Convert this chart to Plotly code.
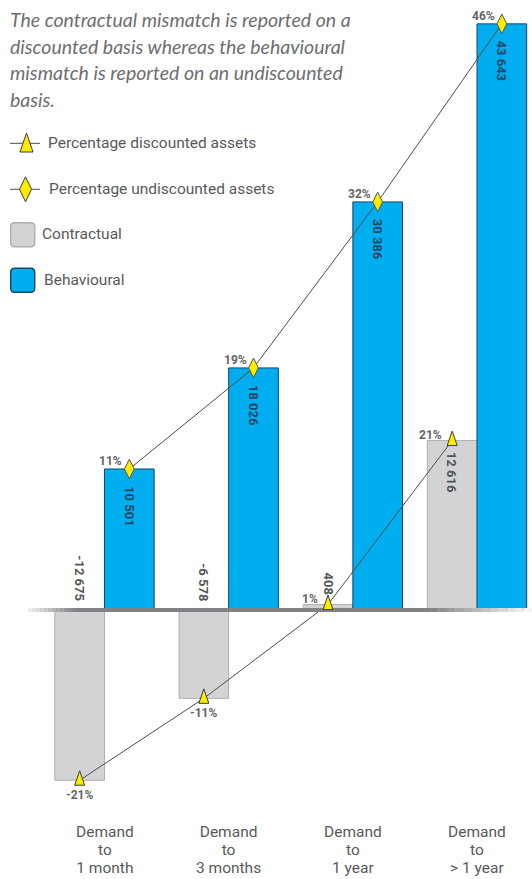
import plotly.graph_objects as go

# ---------------- data ----------------
cat_lines = [["Demand", "to", "1 month"],
             ["Demand", "to", "3 months"],
             ["Demand", "to", "1 year"],
             ["Demand", "to", "> 1 year"]]
contractual = [-12675, -6578, 408, 12616]
behavioural = [10501, 18026, 30386, 43643]
pct_discounted = [-21, -11, 1, 21]
pct_undiscounted = [11, 19, 32, 46]
title_lines = ["The contractual mismatch is reported on a",
               "discounted basis whereas the behavioural",
               "mismatch is reported on an undiscounted",
               "basis."]
legend_names = ["Percentage discounted assets", "Percentage undiscounted assets",
                "Contractual", "Behavioural"]

# ---------------- layout helpers ----------------
W, H = 532, 879
ZERO_PX = 610.0
K = 0.01343            # pixels per unit
FIRST_PX = 104.5
STEP_PX = 124.17

def px(x):
    return x / W

def py(y):
    return (H - y) / H

FONT = "Roboto"
GREY_TXT = "#58595b"
BLUE = "#00aeef"
BLUE_LINE = "#17476b"
GREY = "#d1d3d4"
GREY_LINE = "#aeb0b2"
YELLOW = "#ffeb00"
LINE_C = "#4d4d4f"

idx = list(range(len(cat_lines)))
xc = [i - 0.2 for i in idx]
xb = [i + 0.2 for i in idx]

def fmt(v):
    return f"{v:,}".replace(",", " ")

fig = go.Figure()
fig.add_trace(go.Bar(x=idx, y=contractual, name=legend_names[2],
                     marker=dict(color=GREY, line=dict(color=GREY_LINE, width=1))))
fig.add_trace(go.Bar(x=idx, y=behavioural, name=legend_names[3],
                     marker=dict(color=BLUE, line=dict(color=BLUE_LINE, width=1))))
fig.add_trace(go.Scatter(x=xc, y=contractual, mode="lines", name=legend_names[0],
                         line=dict(color=LINE_C, width=1)))
fig.add_trace(go.Scatter(x=xb, y=behavioural, mode="lines+markers", name=legend_names[1],
                         line=dict(color=LINE_C, width=1),
                         marker=dict(symbol="diamond-tall", size=14, color=YELLOW,
                                     line=dict(color="#555555", width=1))))

shapes = []
annotations = []

# zero line with faded ends
def mix(c1, c2, t):
    a = [int(c1[i:i + 2], 16) for i in (1, 3, 5)]
    b = [int(c2[i:i + 2], 16) for i in (1, 3, 5)]
    return "#" + "".join(f"{round(a[j] + (b[j] - a[j]) * t):02x}" for j in range(3))

DARK = "#808285"
LIGHT = "#f2f2f2"
n = 12
l0, l1 = 28, 75
r0, r1 = 430, 532
for s in range(n):
    xa = l0 + (l1 - l0) * s / n
    xb2 = l0 + (l1 - l0) * (s + 1) / n
    shapes.append(dict(type="line", xref="paper", yref="y", x0=px(xa), x1=px(xb2), y0=0, y1=0,
                       line=dict(color=mix(LIGHT, DARK, (s + 0.5) / n), width=4), layer="above"))
shapes.append(dict(type="line", xref="paper", yref="y", x0=px(l1), x1=px(r0), y0=0, y1=0,
                   line=dict(color=DARK, width=4), layer="above"))
for s in range(n):
    xa = r0 + (r1 - r0) * s / n
    xb2 = r0 + (r1 - r0) * (s + 1) / n
    shapes.append(dict(type="line", xref="paper", yref="y", x0=px(xa), x1=px(xb2), y0=0, y1=0,
                       line=dict(color=mix(DARK, "#fafafa", (s + 0.5) / n), width=4), layer="above"))

# triangle markers (tall triangles) anchored on the data points
TRI = "M-5,-5 L5,-5 L0,9.5 Z"
for x, v in zip(xc, contractual):
    shapes.append(dict(type="path", xref="x", yref="y", xsizemode="pixel", ysizemode="pixel",
                       xanchor=x, yanchor=v, path=TRI, fillcolor=YELLOW,
                       line=dict(color="#3d3d3d", width=1), layer="above"))

# value labels (rotated)
for x, v in zip(xb, behavioural):
    annotations.append(dict(x=x, y=v, xref="x", yref="y", text=f"<b>{fmt(v)}</b>", textangle=90,
                            showarrow=False, yanchor="top", xanchor="center", yshift=-15,
                            font=dict(family=FONT, size=13, color="#1d4566")))
for x, v in zip(xc, contractual):
    if v >= 1000:
        annotations.append(dict(x=x, y=v, xref="x", yref="y", text=f"<b>{fmt(v)}</b>", textangle=90,
                                showarrow=False, yanchor="top", xanchor="center", yshift=-9,
                                font=dict(family=FONT, size=13, color="#555555")))
    else:
        annotations.append(dict(x=x, y=max(v, 0), xref="x", yref="y", text=f"<b>{fmt(v)}</b>",
                                textangle=90, showarrow=False, yanchor="bottom", xanchor="center",
                                yshift=7 if v < 0 else 8,
                                font=dict(family=FONT, size=13, color="#555555")))

# percentage labels
for x, v, p in zip(xb, behavioural, pct_undiscounted):
    annotations.append(dict(x=x, y=v, xref="x", yref="y", text=f"<b>{p}%</b>", showarrow=False,
                            xanchor="right", yanchor="middle", xshift=-5, yshift=8,
                            font=dict(family=FONT, size=12, color="#636466")))
for x, v, p in zip(xc, contractual, pct_discounted):
    if p < 0:
        annotations.append(dict(x=x, y=v, xref="x", yref="y", text=f"<b>{p}%</b>", showarrow=False,
                                xanchor="center", yanchor="middle", yshift=-15,
                                font=dict(family=FONT, size=12, color="#636466")))
    else:
        annotations.append(dict(x=x, y=v, xref="x", yref="y", text=f"<b>{p}%</b>", showarrow=False,
                                xanchor="right", yanchor="middle", xshift=-8, yshift=6,
                                font=dict(family=FONT, size=12, color="#636466")))

# category labels: one text per category; base font sets the line spacing,
# spans set the glyph size
for i, lines in enumerate(cat_lines):
    txt = "<br>".join(f"<span style='font-size:15.5px'>{t}</span>" for t in lines)
    annotations.append(dict(x=i, y=py(850), xref="x", yref="paper", text=txt,
                            showarrow=False, xanchor="center", yanchor="middle", align="center",
                            font=dict(family=FONT, size=14, color=GREY_TXT)))

# title
for j, t in enumerate(title_lines):
    annotations.append(dict(x=px(8), y=py(19.5 + 26.7 * j), xref="paper", yref="paper",
                            text=f"<i>{t}</i>", showarrow=False, xanchor="left", yanchor="middle",
                            font=dict(family="Lato", size=19.5, color="#6d6e71")))

# custom legend
leg_y = [143.3, 189.3, 234.7, 280.3]
leg_tx = [46, 47, 40, 41.5]
for j in range(2):
    shapes.append(dict(type="line", xref="paper", yref="paper", x0=px(10), x1=px(40),
                       y0=py(leg_y[j]), y1=py(leg_y[j]), line=dict(color=LINE_C, width=1)))
shapes.append(dict(type="path", xref="paper", yref="paper", xsizemode="pixel", ysizemode="pixel",
                   xanchor=px(26.5), yanchor=py(leg_y[0]), path="M-6.5,-8.7 L6.5,-8.7 L0,10.3 Z",
                   fillcolor=YELLOW, line=dict(color="#3d3d3d", width=1)))
shapes.append(dict(type="path", xref="paper", yref="paper", xsizemode="pixel", ysizemode="pixel",
                   xanchor=px(25.5), yanchor=py(leg_y[1]), path="M0,12.5 L6,0 L0,-12.5 L-6,0 Z",
                   fillcolor=YELLOW, line=dict(color="#3d3d3d", width=1)))
RR = ("M-8,-12 L8,-12 Q12,-12 12,-8 L12,8 Q12,12 8,12 L-8,12 "
      "Q-12,12 -12,8 L-12,-8 Q-12,-12 -8,-12 Z")
shapes.append(dict(type="path", xref="paper", yref="paper", xsizemode="pixel", ysizemode="pixel",
                   xanchor=px(22.7), yanchor=py(leg_y[2]), path=RR,
                   fillcolor=GREY, line=dict(color=GREY_LINE, width=1.5)))
shapes.append(dict(type="path", xref="paper", yref="paper", xsizemode="pixel", ysizemode="pixel",
                   xanchor=px(22.7), yanchor=py(leg_y[3]), path=RR,
                   fillcolor=BLUE, line=dict(color=BLUE_LINE, width=1.5)))
for j, name in enumerate(legend_names):
    annotations.append(dict(x=px(leg_tx[j]), y=py(leg_y[j] - 0.5), xref="paper", yref="paper",
                            text=name, showarrow=False, xanchor="left", yanchor="middle",
                            font=dict(family=FONT, size=15.5, color=GREY_TXT)))

fig.update_layout(
    width=W, height=H,
    margin=dict(l=0, r=0, t=0, b=0),
    paper_bgcolor="white", plot_bgcolor="white",
    barmode="group", bargap=0.2, bargroupgap=0,
    showlegend=False,
    xaxis=dict(range=[-FIRST_PX / STEP_PX, (W - FIRST_PX) / STEP_PX], visible=False),
    yaxis=dict(range=[-(H - ZERO_PX) / K, ZERO_PX / K], visible=False),
    shapes=shapes, annotations=annotations,
)

# remove the browser's default page margin so the figure fills the window exactly
fig.write_html("out.html", config={"displayModeBar": False},
               post_script="document.body.style.margin='0';document.body.style.overflow='hidden';")
